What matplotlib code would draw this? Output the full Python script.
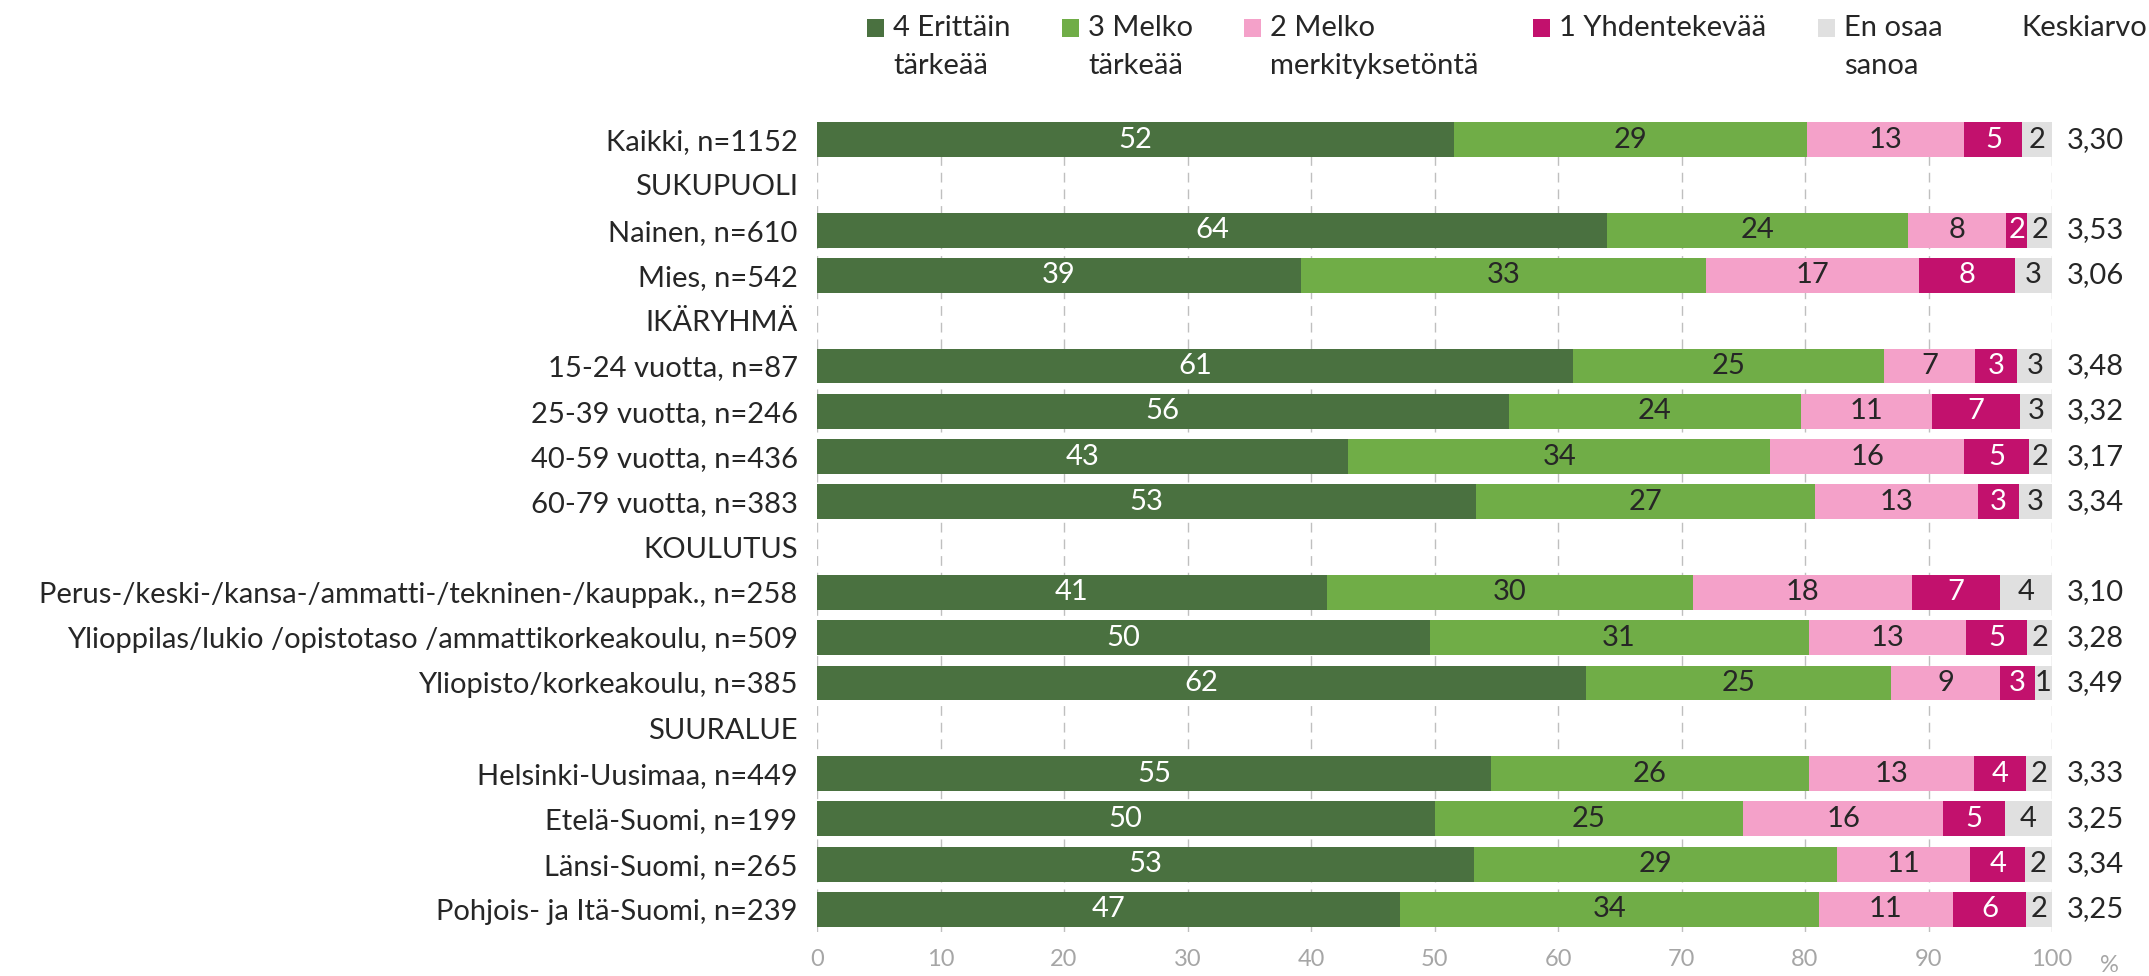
import matplotlib
matplotlib.use("Agg")
import matplotlib.pyplot as plt
from matplotlib.patches import Rectangle
from matplotlib.transforms import blended_transform_factory
import numpy as np

plt.rcParams['font.family'] = ['Lato', 'DejaVu Sans']

categories = [
    "Kaikki, n=1152", "SUKUPUOLI", "Nainen, n=610", "Mies, n=542", "IKÄRYHMÄ",
    "15-24 vuotta, n=87", "25-39 vuotta, n=246", "40-59 vuotta, n=436", "60-79 vuotta, n=383",
    "KOULUTUS", "Perus-/keski-/kansa-/ammatti-/tekninen-/kauppak., n=258",
    "Ylioppilas/lukio /opistotaso /ammattikorkeakoulu, n=509", "Yliopisto/korkeakoulu, n=385",
    "SUURALUE", "Helsinki-Uusimaa, n=449", "Etelä-Suomi, n=199", "Länsi-Suomi, n=265",
    "Pohjois- ja Itä-Suomi, n=239",
]
N = np.nan
erittain = [51.6, N, 64.0, 39.2, N, 61.2, 56.0, 43.0, 53.4, N, 41.3, 49.6, 62.3, N, 54.6, 50.0, 53.2, 47.2]
melko_t = [28.6, N, 24.3, 32.8, N, 25.2, 23.7, 34.2, 27.4, N, 29.6, 30.7, 24.7, N, 25.7, 25.0, 29.4, 33.9]
melko_m = [12.7, N, 8.0, 17.2, N, 7.4, 10.6, 15.7, 13.2, N, 17.8, 12.7, 8.8, N, 13.4, 16.2, 10.8, 10.9]
yhdentek = [4.7, N, 1.7, 7.8, N, 3.4, 7.1, 5.2, 3.3, N, 7.1, 5.0, 2.8, N, 4.2, 5.0, 4.4, 5.9]
eos = [2.4, N, 2.0, 3.0, N, 2.8, 2.6, 1.9, 2.7, N, 4.2, 2.0, 1.4, N, 2.1, 3.8, 2.2, 2.1]
keskiarvo = ["3,30", "", "3,53", "3,06", "", "3,48", "3,32", "3,17", "3,34", "",
             "3,10", "3,28", "3,49", "", "3,33", "3,25", "3,34", "3,25"]

series_names = ["4 Erittäin\ntärkeää", "3 Melko\ntärkeää", "2 Melko\nmerkityksetöntä",
                "1 Yhdentekevää", "En osaa\nsanoa"]
series = [erittain, melko_t, melko_m, yhdentek, eos]
colors = ["#4A7140", "#70AD47", "#F4A1C9", "#C2116D", "#E0E0E0"]
label_colors = ["white", "#262626", "#262626", "white", "#262626"]
xticks = [0, 10, 20, 30, 40, 50, 60, 70, 80, 90, 100]

W, H = 2149, 976
fig = plt.figure(figsize=(W / 100, H / 100), dpi=100)
ax = fig.add_axes([817 / W, 1 - 932 / H, (2052 - 817) / W, (932 - 117) / H])

y = np.arange(len(categories))
left = np.zeros(len(categories))
fs = 21
for vals, col, lc in zip(series, colors, label_colors):
    v = np.array(vals, dtype=float)
    vv = np.nan_to_num(v)
    ax.barh(y, vv, left=left, height=0.77, color=col, edgecolor='none', zorder=3)
    for yi, (val, l) in enumerate(zip(v, left)):
        if not np.isnan(val):
            ax.text(l + val / 2, yi, f"{val:.0f}", ha='center', va='center',
                    color=lc, fontsize=fs, zorder=4)
    left = left + vv

ax.set_xlim(0, 100)
ax.set_ylim(len(categories) - 0.5, -0.5)
ax.set_yticks(y)
ax.set_yticklabels(categories, fontsize=fs, color="#262626")
ax.tick_params(axis='y', length=0, pad=14)
ax.set_xticks(xticks)
ax.set_xticklabels([str(t) for t in xticks], fontsize=17, color="#A6A6A6")
ax.tick_params(axis='x', length=0, pad=12)
for s in ax.spines.values():
    s.set_visible(False)
ax.grid(axis='x', color='#BFBFBF', linestyle=(0, (7, 5)), linewidth=1.0, zorder=0)
ax.grid(axis='y', visible=False)

tr = blended_transform_factory(ax.transAxes, ax.transData)
for yi, k in enumerate(keskiarvo):
    if k:
        ax.text(1.0 + 15 / (2052 - 817), yi, k, transform=tr, ha='left', va='center',
                fontsize=fs, color="#262626")
fig.text(2100 / W, 1 - 966 / H, "%", ha='left', va='center', fontsize=17, color="#A6A6A6")

# legend
leg_x = [867, 1062, 1244, 1533, 1818]
for lx, name, col in zip(leg_x, series_names, colors):
    fig.patches.append(Rectangle((lx / W, 1 - 37 / H), 17 / W, 18 / H, transform=fig.transFigure,
                                 facecolor=col, edgecolor='none'))
    for li, line in enumerate(name.split("\n")):
        fig.text((lx + 26) / W, 1 - (28 + 38 * li) / H, line, ha='left', va='center',
                 fontsize=fs, color="#262626")
fig.text(2021 / W, 1 - 28 / H, "Keskiarvo", ha='left', va='center', fontsize=fs, color="#262626")

fig.savefig("out.png", dpi=100, facecolor='white')
